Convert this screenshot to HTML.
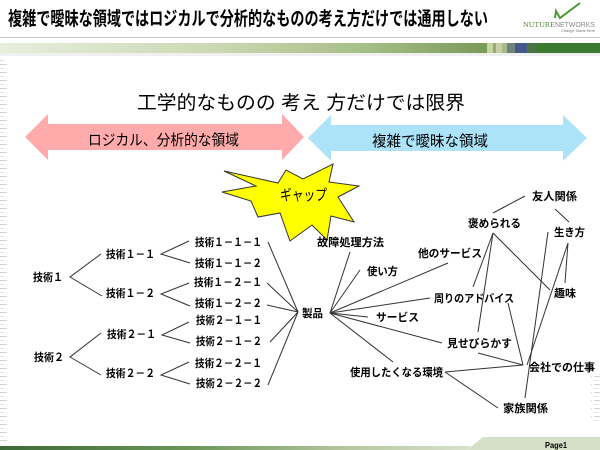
<!DOCTYPE html>
<html><head><meta charset="utf-8"><style>
html,body{margin:0;padding:0;background:#fff;}
svg{display:block;}
text{font-family:"Liberation Sans","Noto Sans CJK JP",sans-serif;}
.lb{font-size:11px;font-weight:bold;fill:#000;}
</style></head><body>
<svg width="600" height="450" viewBox="0 0 600 450" xmlns="http://www.w3.org/2000/svg">
<defs>
<linearGradient id="tb" x1="0" x2="1" y1="0" y2="0">
<stop offset="0" stop-color="#e8eedc"/>
<stop offset="0.35" stop-color="#ccd9b4"/>
<stop offset="0.6" stop-color="#a8bf88"/>
<stop offset="0.81" stop-color="#7a9a58"/>
</linearGradient>
<linearGradient id="bb" x1="0" x2="1" y1="0" y2="0">
<stop offset="0" stop-color="#3c6a36"/>
<stop offset="0.4" stop-color="#6a9658"/>
<stop offset="0.75" stop-color="#b8c8a0"/>
<stop offset="1" stop-color="#d8e2cc"/>
</linearGradient>
<pattern id="rul" width="9" height="8" patternUnits="userSpaceOnUse">
<line x1="0" y1="0.5" x2="7" y2="0.5" stroke="#d4d4d4" stroke-width="1"/>
<line x1="0" y1="4.5" x2="4" y2="4.5" stroke="#e0e0e0" stroke-width="1"/>
</pattern>
</defs>

<!-- header -->
<text x="8" y="25" font-size="19" font-weight="bold" textLength="480" lengthAdjust="spacingAndGlyphs">複雑で曖昧な領域ではロジカルで分析的なものの考え方だけでは通用しない</text>
<path d="M555 18 L556 11 L560 18 L580 3" fill="none" stroke="#4a9a30" stroke-width="2"/>
<text x="523" y="27" font-size="7" fill="#5a8a3a" textLength="32" lengthAdjust="spacingAndGlyphs" style="font-family:'Liberation Serif',serif">NUTURE</text>
<text x="555" y="27" font-size="7" fill="#888" textLength="40" lengthAdjust="spacingAndGlyphs">NETWORKS</text>
<text x="561" y="32" font-size="3.5" fill="#777" textLength="34" lengthAdjust="spacingAndGlyphs">Change Starts Here</text>
<line x1="0" y1="37.5" x2="600" y2="37.5" stroke="#c8c8c8" stroke-width="1"/>
<rect x="0" y="43" width="600" height="10" fill="url(#tb)"/>
<rect x="487" y="43" width="6" height="10" fill="#c8d4a8"/>
<rect x="493" y="43" width="3" height="10" fill="#98ac6c"/>
<rect x="496" y="43" width="6" height="10" fill="#c4d0a4"/>
<rect x="502" y="43" width="5" height="10" fill="#a8b890"/>
<rect x="507" y="43" width="8" height="10" fill="#6e8478"/>
<rect x="515" y="43" width="12" height="10" fill="#42598a"/>
<rect x="527" y="43" width="10" height="10" fill="#4a7448"/>
<rect x="537" y="43" width="63" height="10" fill="#3a7a2e"/>
<rect x="0" y="53" width="600" height="3" fill="#f0f0f0"/>

<!-- rulers -->
<rect x="0" y="58" width="9" height="384" fill="url(#rul)"/>
<rect x="591" y="373" width="9" height="48" fill="url(#rul)"/>

<!-- bottom bar -->
<polygon points="483,437 600,437 600,450 467,450" fill="#d6e0c8"/>
<rect x="0" y="446" width="470" height="4" fill="url(#bb)"/>
<text x="545" y="448" font-size="8" font-weight="bold" textLength="22" lengthAdjust="spacingAndGlyphs">Page1</text>

<!-- subtitle -->
<text x="137" y="109" font-size="19" textLength="328" lengthAdjust="spacingAndGlyphs">工学的なものの 考え 方だけでは限界</text>

<!-- arrows -->
<polygon points="25,137 48,114 48,124 282,124 282,114 304,137 282,160 282,150 48,150 48,160" fill="#ffabab"/>
<polygon points="308,138 331,115 331,125 563,125 563,115 587,138 563,161 563,151 331,151 331,161" fill="#ade3f8"/>
<text x="88" y="145" font-size="15" textLength="151" lengthAdjust="spacingAndGlyphs">ロジカル、分析的な領域</text>
<text x="372" y="146" font-size="15" textLength="116" lengthAdjust="spacingAndGlyphs">複雑で曖昧な領域</text>

<!-- starburst -->
<polygon points="224,171 278,183 286,170 303,179 333,164 329,182 359,186 338,197 354,222 331,216 327,240 312,225 290,241 280,213 258,217 251,201 222,192 256,186" fill="#ffff00" stroke="#333" stroke-width="1"/>
<text x="280" y="200" font-size="15" textLength="47" lengthAdjust="spacingAndGlyphs">ギャップ</text>

<!-- connector lines -->
<g stroke="#333" stroke-width="1" fill="none">
<path d="M101,254 L70,277 L102,296"/>
<path d="M189,241 L161,254 L190,263"/>
<path d="M189,283 L161,294 L190,306"/>
<path d="M101,333 L70,357 L101,375"/>
<path d="M189,322 L162,335 L190,343"/>
<path d="M189,362 L161,375 L190,384"/>
<path d="M268,242 L298,312 M267,283 L298,312 M267,305 L298,312 M270,342 L298,312 M268,385 L298,312"/>
<path d="M330,313 L350,252 M330,313 L360,270 M330,313 L448,263 M330,313 L430,298 M330,313 L368,317 M330,313 L442,343 M330,313 L393,362"/>
<path d="M493,213 L525,196"/>
<path d="M555,209 L569,222"/>
<path d="M493,233 L473,287 M493,233 L478,332 M493,233 L550,290"/>
<path d="M568,243 L565,283 M568,243 L527,365"/>
<path d="M548,232 L525,398"/>
<path d="M523,365 L508,303 M523,365 L478,353 M523,365 L445,372"/>
<path d="M445,372 L498,408"/>
</g>

<!-- labels -->
<text class="lb" x="33" y="281" textLength="30" lengthAdjust="spacingAndGlyphs">技術１</text>
<text class="lb" x="106" y="258" textLength="49" lengthAdjust="spacingAndGlyphs">技術１－１</text>
<text class="lb" x="106" y="297" textLength="49" lengthAdjust="spacingAndGlyphs">技術１－２</text>
<text class="lb" x="195" y="246" textLength="67" lengthAdjust="spacingAndGlyphs">技術１－１－１</text>
<text class="lb" x="195" y="267" textLength="67" lengthAdjust="spacingAndGlyphs">技術１－１－２</text>
<text class="lb" x="194" y="286" textLength="68" lengthAdjust="spacingAndGlyphs">技術１－２－１</text>
<text class="lb" x="195" y="307" textLength="67" lengthAdjust="spacingAndGlyphs">技術１－２－２</text>
<text class="lb" x="196" y="324" textLength="66" lengthAdjust="spacingAndGlyphs">技術２－１－１</text>
<text class="lb" x="196" y="345" textLength="66" lengthAdjust="spacingAndGlyphs">技術２－１－２</text>
<text class="lb" x="195" y="367" textLength="67" lengthAdjust="spacingAndGlyphs">技術２－２－１</text>
<text class="lb" x="196" y="387" textLength="66" lengthAdjust="spacingAndGlyphs">技術２－２－２</text>
<text class="lb" x="34" y="361" textLength="30" lengthAdjust="spacingAndGlyphs">技術２</text>
<text class="lb" x="107" y="338" textLength="49" lengthAdjust="spacingAndGlyphs">技術２－１</text>
<text class="lb" x="106" y="377" textLength="49" lengthAdjust="spacingAndGlyphs">技術２－２</text>
<text class="lb" x="302" y="317" textLength="21" lengthAdjust="spacingAndGlyphs">製品</text>
<text class="lb" x="532" y="200" textLength="45" lengthAdjust="spacingAndGlyphs">友人関係</text>
<text class="lb" x="468" y="227" textLength="53" lengthAdjust="spacingAndGlyphs">褒められる</text>
<text class="lb" x="554" y="236" textLength="31" lengthAdjust="spacingAndGlyphs">生き方</text>
<text class="lb" x="317" y="246" textLength="67" lengthAdjust="spacingAndGlyphs">故障処理方法</text>
<text class="lb" x="418" y="257" textLength="64" lengthAdjust="spacingAndGlyphs">他のサービス</text>
<text class="lb" x="367" y="275" textLength="31" lengthAdjust="spacingAndGlyphs">使い方</text>
<text class="lb" x="554" y="297" textLength="22" lengthAdjust="spacingAndGlyphs">趣味</text>
<text class="lb" x="434" y="302" textLength="80" lengthAdjust="spacingAndGlyphs">周りのアドバイス</text>
<text class="lb" x="376" y="321" textLength="43" lengthAdjust="spacingAndGlyphs">サービス</text>
<text class="lb" x="447" y="347" textLength="65" lengthAdjust="spacingAndGlyphs">見せびらかす</text>
<text class="lb" x="529" y="371" textLength="66" lengthAdjust="spacingAndGlyphs">会社での仕事</text>
<text class="lb" x="350" y="376" textLength="93" lengthAdjust="spacingAndGlyphs">使用したくなる環境</text>
<text class="lb" x="503" y="412" textLength="45" lengthAdjust="spacingAndGlyphs">家族関係</text>
</svg>
</body></html>
